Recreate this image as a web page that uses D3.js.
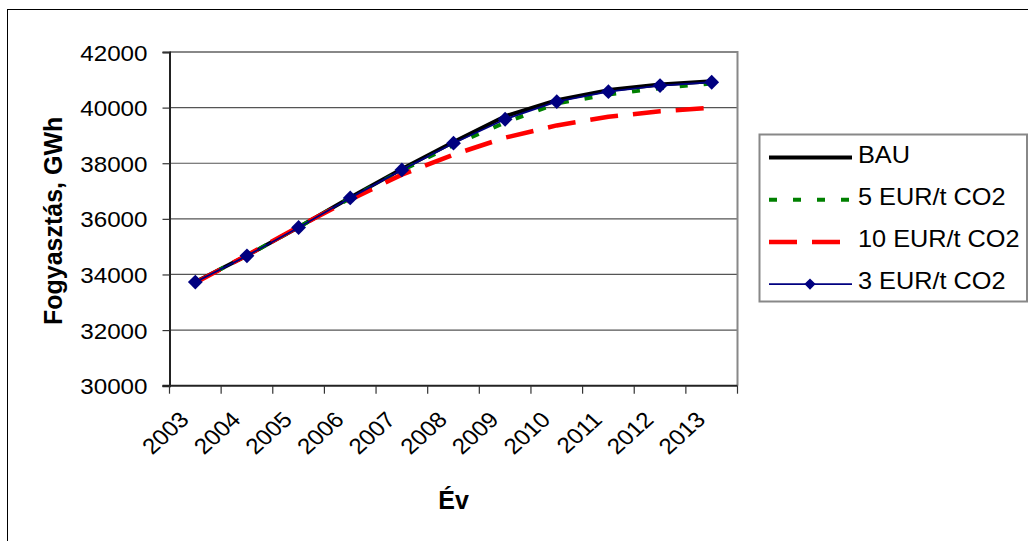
<!DOCTYPE html>
<html>
<head>
<meta charset="utf-8">
<script src="https://cdn.jsdelivr.net/npm/d3@7"></script>
<style>
  body { margin: 0; background: #fff; }
  svg { display: block; font-family: "Liberation Sans", Arial, sans-serif; }
</style>
</head>
<body>
<svg width="1028" height="541"></svg>
<script>
// data
var years = ["2003", "2004", "2005", "2006", "2007", "2008", "2009", "2010", "2011", "2012", "2013"];
var bau   = [33730, 34680, 35700, 36770, 37790, 38760, 39690, 40270, 40630, 40830, 40950];
var eur5  = [33720, 34680, 35700, 36740, 37740, 38660, 39460, 40150, 40470, 40700, 40870];
var eur10 = [33700, 34690, 35720, 36690, 37590, 38310, 38920, 39360, 39670, 39870, 40000];
var eur3  = [33725, 34670, 35690, 36754, 37760, 38720, 39582, 40215, 40575, 40791, 40913];
var yTicks = [30000, 32000, 34000, 36000, 38000, 40000, 42000];
var seriesNames = ["BAU", "5 EUR/t CO2", "10 EUR/t CO2", "3 EUR/t CO2"];

window.onload = initialize();

function initialize() {
  var svg = d3.select("svg"),
      pLeft = 169.5, pRight = 737.5, pTop = 52, pBottom = 385.7,
      stretch = 1.1;

  // outer chart frame (right and bottom edges fall outside the picture)
  svg.append("rect")
      .attr("x", 7.5).attr("y", 9.5)
      .attr("width", 1040).attr("height", 560)
      .attr("fill", "none").attr("stroke", "#000").attr("stroke-width", 1);

  var x = d3.scaleBand().domain(years).range([pLeft, pRight]);
  var y = d3.scaleLinear().domain([30000, 42000]).range([pBottom, pTop]);
  function cx(d) { return x(d) + x.bandwidth() / 2; }

  // gridlines
  svg.append("g").selectAll("line")
      .data(yTicks.slice(1, -1))
      .enter().append("line")
        .attr("x1", pLeft).attr("x2", pRight)
        .attr("y1", function(d) { return y(d); })
        .attr("y2", function(d) { return y(d); })
        .attr("stroke", "#555").attr("stroke-width", 1.2);

  // plot border top + right
  svg.append("path")
      .attr("d", "M" + pLeft + "," + pTop + "H" + pRight + "V" + pBottom)
      .attr("fill", "none").attr("stroke", "#888").attr("stroke-width", 2);

  // y axis
  var yAxis = svg.append("g")
      .attr("transform", "translate(" + pLeft + ",0)")
      .call(d3.axisLeft(y).tickValues(yTicks).tickSize(7).tickFormat(d3.format("d")));
  yAxis.select(".domain").attr("stroke", "#222").attr("stroke-width", 2);
  yAxis.selectAll(".tick line").attr("stroke", "#333").attr("stroke-width", 1.2);
  yAxis.selectAll(".tick text")
      .attr("x", null).attr("dy", null)
      .attr("transform", "translate(-22,8) scale(" + stretch + ",1)")
      .attr("text-anchor", "end")
      .attr("font-size", 22).attr("font-family", "Liberation Sans, Arial, sans-serif")
      .attr("fill", "#000");

  // x axis: ticks at category boundaries
  var xAxis = svg.append("g")
      .attr("transform", "translate(0," + pBottom + ")");
  xAxis.append("line")
      .attr("x1", pLeft - 7).attr("x2", pRight)
      .attr("stroke", "#222").attr("stroke-width", 2);
  xAxis.selectAll(".bt")
      .data(years.concat(["end"]))
      .enter().append("line")
        .attr("class", "bt")
        .attr("x1", function(d) { return d === "end" ? pRight : x(d); })
        .attr("x2", function(d) { return d === "end" ? pRight : x(d); })
        .attr("y1", 0).attr("y2", 8)
        .attr("stroke", "#333").attr("stroke-width", 1.2);

  svg.append("g").selectAll("text")
      .data(years)
      .enter().append("text")
        .attr("transform", function(d) {
          return "translate(" + (cx(d) - 5) + ",421) scale(" + stretch + ",1) rotate(-45)";
        })
        .attr("text-anchor", "end")
        .attr("font-size", 22)
        .text(function(d) { return d; });

  // axis titles
  svg.append("text")
      .attr("transform", "translate(62," + ((pTop + pBottom) / 2 + 2) + ") rotate(-90)")
      .attr("text-anchor", "middle")
      .attr("font-size", 25).attr("font-weight", "bold")
      .text("Fogyasztás,  GWh");

  svg.append("text")
      .attr("x", (pLeft + pRight) / 2).attr("y", 509)
      .attr("text-anchor", "middle")
      .attr("font-size", 25).attr("font-weight", "bold")
      .text("Év");

  // lines
  var line = d3.line()
      .x(function(d, i) { return cx(years[i]); })
      .y(function(d) { return y(d); });

  var styles = [
    { color: "#000000", width: 4, dash: null },
    { color: "#008000", width: 4, dash: "8,16" },
    { color: "#ff0000", width: 4.5, dash: "28,15" },
    { color: "#000080", width: 1.8, dash: null }
  ];
  var allSeries = [bau, eur5, eur10, eur3];

  svg.append("g").selectAll("path")
      .data(allSeries)
      .enter().append("path")
        .attr("d", line)
        .attr("fill", "none")
        .attr("stroke", function(d, i) { return styles[i].color; })
        .attr("stroke-width", function(d, i) { return styles[i].width; })
        .attr("stroke-dasharray", function(d, i) { return styles[i].dash; })
        .attr("stroke-linejoin", "round");

  var diamond = d3.symbol().type(d3.symbolDiamond2).size(140);

  svg.append("g").selectAll("path")
      .data(eur3)
      .enter().append("path")
        .attr("d", diamond)
        .attr("transform", function(d, i) { return "translate(" + cx(years[i]) + "," + y(d) + ")"; })
        .attr("fill", "#000080");

  // legend
  var lg = svg.append("g");
  lg.append("rect")
      .attr("x", 759.5).attr("y", 134.5)
      .attr("width", 267.5).attr("height", 167)
      .attr("fill", "#fff").attr("stroke", "#888").attr("stroke-width", 2);

  var items = lg.selectAll(".item")
      .data(seriesNames)
      .enter().append("g")
        .attr("class", "item")
        .attr("transform", function(d, i) { return "translate(0," + (157.5 + i * 42.2) + ")"; });

  items.append("line")
      .attr("x1", 769).attr("x2", 852)
      .attr("stroke", function(d, i) { return styles[i].color; })
      .attr("stroke-width", function(d, i) { return styles[i].width; })
      .attr("stroke-dasharray", function(d, i) { return styles[i].dash; });

  items.filter(function(d, i) { return i === 3; })
      .append("path")
        .attr("d", d3.symbol().type(d3.symbolDiamond2).size(80))
        .attr("transform", "translate(810,0)")
        .attr("fill", "#000080");

  items.append("text")
      .attr("transform", "translate(858,5) scale(" + stretch + ",1)")
      .attr("font-size", 23)
      .text(function(d) { return d; });
}
</script>
</body>
</html>
